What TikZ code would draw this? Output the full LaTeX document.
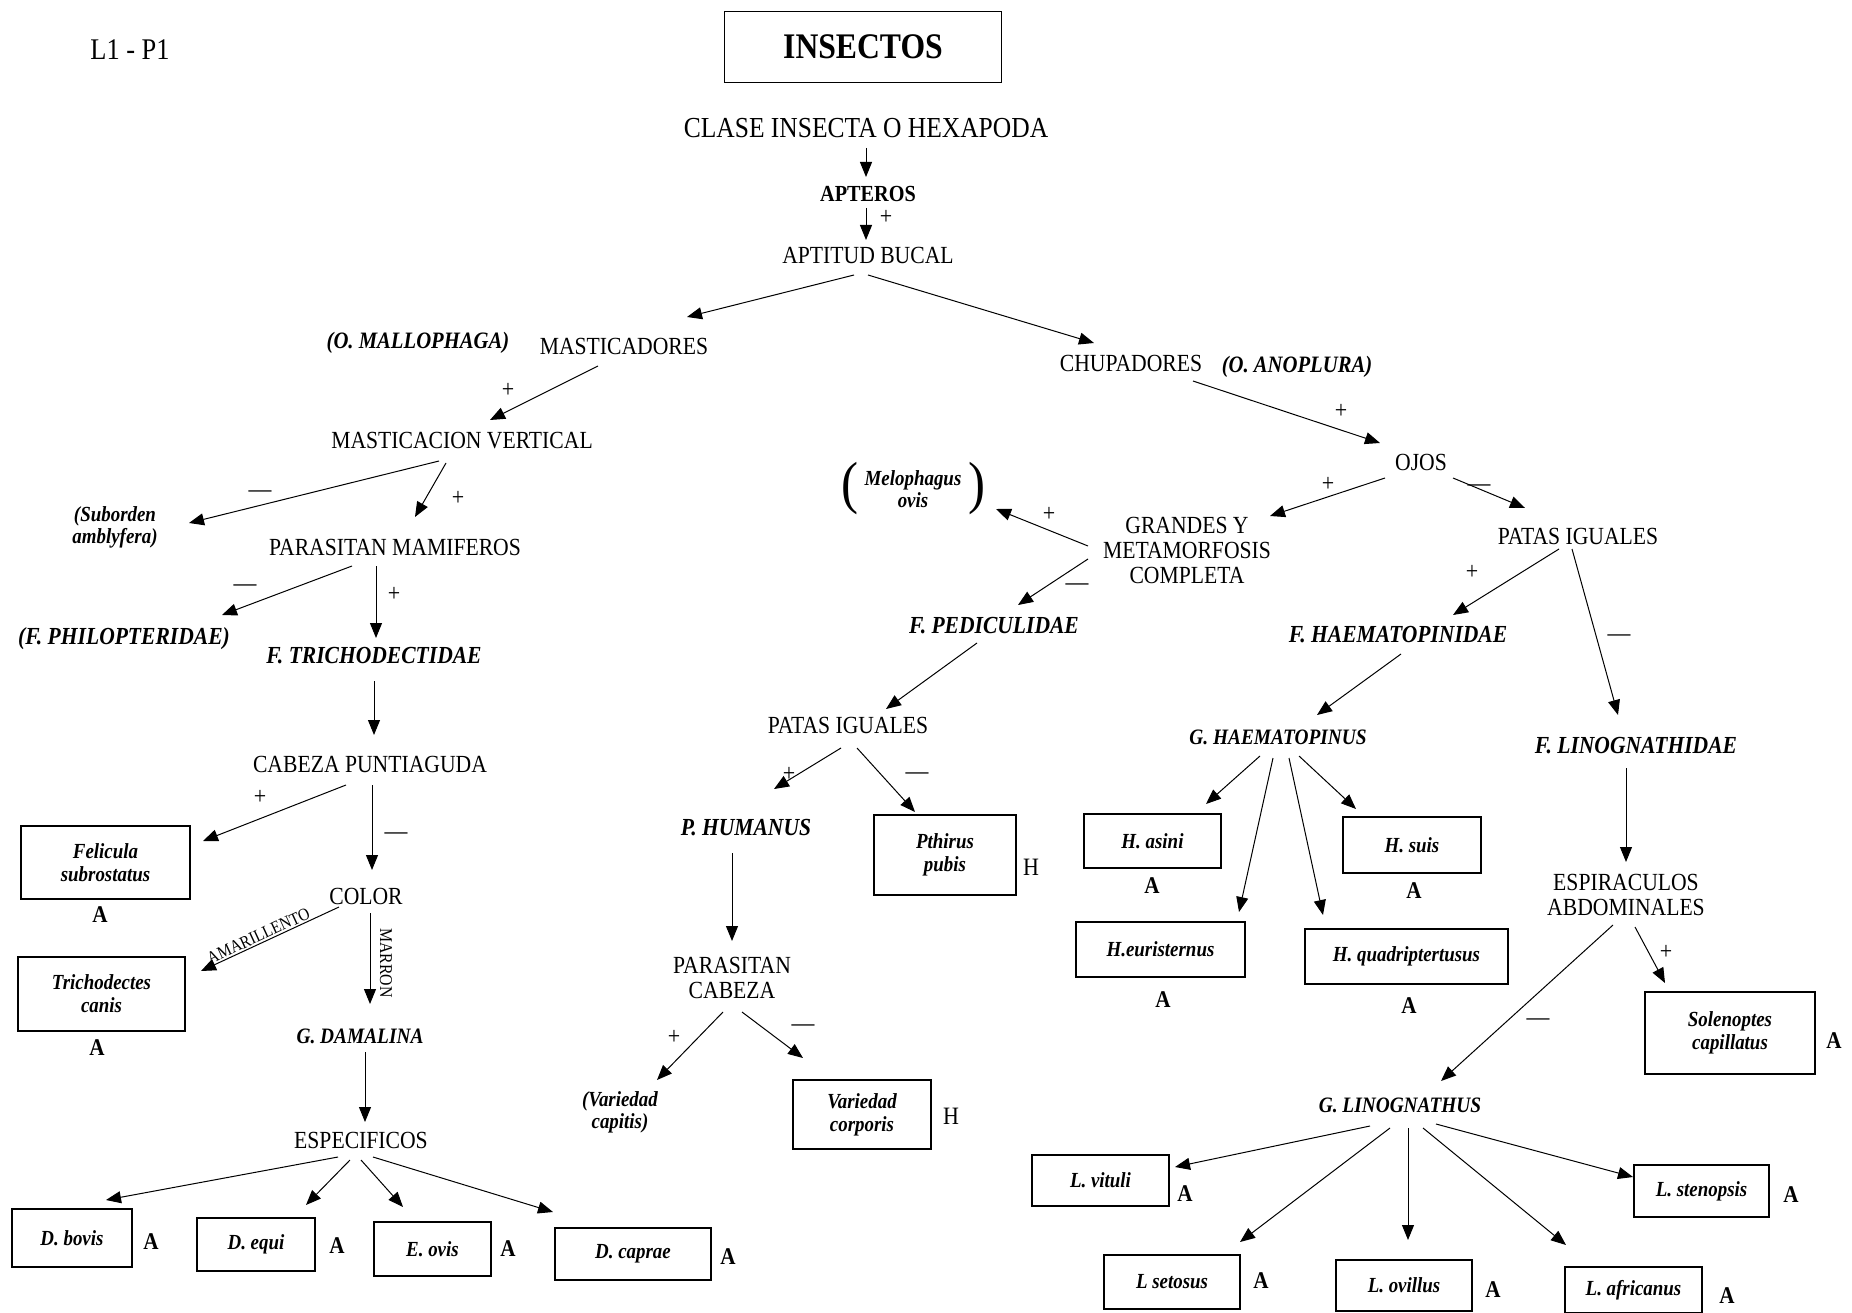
\documentclass[tikz,border=0pt]{standalone}
\usepackage{fontspec}
\setmainfont{Liberation Serif}[FakeStretch=0.88]
\usetikzlibrary{arrows.meta,calc}
\begin{document}
\begin{tikzpicture}[x=1pt,y=-1pt,
 lbl/.style={inner sep=1pt, font=\fontsize{24.6}{25}\selectfont, align=center},
 bi/.style={inner sep=1pt, font=\fontsize{24.5}{25}\selectfont\bfseries\itshape, align=center},
 gbi/.style={inner sep=1pt, font=\fontsize{22}{24}\selectfont\bfseries\itshape, align=center},
 sbi/.style={inner sep=1pt, font=\fontsize{21.5}{22}\selectfont\bfseries\itshape, align=center},
 bx/.style={draw, line width=1.1pt, inner sep=0pt, font=\fontsize{21.5}{23}\selectfont\bfseries\itshape, align=center},
 sgn/.style={inner sep=0pt, font=\fontsize{25}{25}\selectfont},
 dsh/.style={inner sep=0pt, font=\fontsize{26}{26}\selectfont},
 tag/.style={inner sep=0pt, font=\fontsize{24}{24}\selectfont\bfseries},
 htag/.style={inner sep=0pt, font=\fontsize{25}{25}\selectfont},
 arr/.style={line width=1pt, -{Triangle[length=15pt,width=12pt]}},
 par/.style={inner sep=0pt, font=\fontsize{58}{58}\selectfont},
]
\useasboundingbox[fill=white] (0,0) rectangle (1852,1313);

% ---- nodes ----
\node[lbl, font=\fontsize{30}{30}\selectfont] (lp) at (130,50) {L1 - P1};
\node[draw, line width=1.3pt, minimum width=277pt, minimum height=71pt, font=\fontsize{36}{36}\selectfont\bfseries] (ins) at (863,47) {INSECTOS};
\node[lbl, font=\fontsize{29}{29}\selectfont] (clase) at (866,128) {CLASE INSECTA O HEXAPODA};
\node[lbl, font=\fontsize{23}{23}\selectfont\bfseries] (apt) at (868,194) {APTEROS};
\node[lbl] (apb) at (868,255) {APTITUD BUCAL};
\node[bi, font=\fontsize{23.5}{25}\selectfont\bfseries\itshape] (mall) at (418,343) {(O. MALLOPHAGA)};
\node[lbl] (mast) at (624,346) {MASTICADORES};
\node[lbl] (chup) at (1131,363) {CHUPADORES};
\node[bi, font=\fontsize{23.5}{25}\selectfont\bfseries\itshape] (anop) at (1297,367) {(O. ANOPLURA)};
\node[lbl] (mv) at (462,441) {MASTICACION VERTICAL};
\node[lbl] (ojos) at (1421,462) {OJOS};
\node[sbi] (sub) at (115,527) {(Suborden\\amblyfera)};
\node[lbl] (pm) at (395,547) {PARASITAN MAMIFEROS};
\node[sbi] (melo) at (913,489) {Melophagus\\ovis};
\node[par] (melol) at (850,489) {(};
\node[par] (melor) at (977,489) {)};
\node[lbl] (gr) at (1187,550) {GRANDES Y\\METAMORFOSIS\\COMPLETA};
\node[lbl] (pir) at (1578,536) {PATAS IGUALES};
\node[bi] (phil) at (124,639) {(F. PHILOPTERIDAE)};
\node[bi] (tri) at (374,656) {F. TRICHODECTIDAE};
\node[bi] (ped) at (994,626) {F. PEDICULIDAE};
\node[bi] (hae) at (1398,635) {F. HAEMATOPINIDAE};
\node[lbl] (cab) at (370,764) {CABEZA PUNTIAGUDA};
\node[lbl] (pim) at (848,725) {PATAS IGUALES};
\node[gbi] (ghae) at (1278,737) {G. HAEMATOPINUS};
\node[bi] (lin) at (1636,746) {F. LINOGNATHIDAE};
\node[lbl] (esp) at (1626,895) {ESPIRACULOS\\ABDOMINALES};
\node[bx, minimum width=169pt, minimum height=73pt] (fel) at (105.5,862.5) {Felicula\\subrostatus};
\node[lbl] (col) at (366,896) {COLOR};
\node[bx, minimum width=167pt, minimum height=74pt] (trc) at (101.5,994) {Trichodectes\\canis};
\node[gbi] (dam) at (360,1036) {G. DAMALINA};
\node[lbl] (espf) at (361,1140) {ESPECIFICOS};
\node[bx, minimum width=120pt, minimum height=58pt] (dbov) at (72,1238) {D. bovis};
\node[bx, minimum width=118pt, minimum height=53pt] (dequ) at (256,1244.5) {D. equi};
\node[bx, minimum width=117pt, minimum height=54pt] (eovi) at (432.5,1249) {E. ovis};
\node[bx, minimum width=156pt, minimum height=52pt] (dcap) at (633,1254) {D. caprae};
\node[bi] (phu) at (746,828) {P. HUMANUS};
\node[bx, minimum width=142pt, minimum height=80pt] (pth) at (945,855) {Pthirus\\pubis};
\node[lbl] (pc) at (732,978) {PARASITAN\\CABEZA};
\node[sbi] (vcap) at (620,1112) {(Variedad\\capitis)};
\node[bx, minimum width=138pt, minimum height=69pt] (vcor) at (862,1114.5) {Variedad\\corporis};
\node[bx, minimum width=137pt, minimum height=54pt] (has) at (1152.5,841) {H. asini};
\node[bx, minimum width=138pt, minimum height=56pt] (hsu) at (1412,845) {H. suis};
\node[bx, minimum width=169pt, minimum height=55pt] (heu) at (1160.5,949.5) {H.euristernus};
\node[bx, minimum width=203pt, minimum height=55pt] (hqu) at (1406.5,956.5) {H. quadriptertusus};
\node[bx, minimum width=170pt, minimum height=82pt] (sol) at (1730,1033) {Solenoptes\\capillatus};
\node[gbi] (glin) at (1400,1105) {G. LINOGNATHUS};
\node[bx, minimum width=137pt, minimum height=51pt] (lvi) at (1100.5,1180.5) {L. vituli};
\node[bx, minimum width=135pt, minimum height=52pt] (lst) at (1701.5,1191) {L. stenopsis};
\node[bx, minimum width=136pt, minimum height=54pt] (lse) at (1172,1282) {L setosus};
\node[bx, minimum width=136pt, minimum height=51pt] (lov) at (1404,1285.5) {L. ovillus};
\node[bx, minimum width=137pt, minimum height=46pt] (laf) at (1633.5,1290) {L. africanus};

% ---- tags ----
\node[tag] (tfel) at (100,915) {A};
\node[tag] (ttrc) at (97,1048) {A};
\node[tag] (tdbov) at (151,1242) {A};
\node[tag] (tdequ) at (337,1246) {A};
\node[tag] (teovi) at (508,1249) {A};
\node[tag] (tdcap) at (728,1257) {A};
\node[htag] (tpth) at (1031,867) {H};
\node[htag] (tvcor) at (951,1116) {H};
\node[tag] (thas) at (1152,886) {A};
\node[tag] (thsu) at (1414,891) {A};
\node[tag] (theu) at (1163,1000) {A};
\node[tag] (thqu) at (1409,1006) {A};
\node[tag] (tsol) at (1834,1041) {A};
\node[tag] (tlvi) at (1185,1194) {A};
\node[tag] (tlst) at (1791,1195) {A};
\node[tag] (tlse) at (1261,1281) {A};
\node[tag] (tlov) at (1493,1290) {A};
\node[tag] (tlaf) at (1727,1296) {A};

% ---- signs ----
\node[sgn] (s1) at (886,217) {+};
\node[sgn] (s2) at (508,390) {+};
\node[sgn] (s3) at (1341,411) {+};
\node[dsh] (s4) at (260,494) {—};
\node[sgn] (s5) at (458,498) {+};
\node[sgn] (s6) at (1328,484) {+};
\node[dsh] (s7) at (1479,488) {—};
\node[sgn] (s8) at (1049,514) {+};
\node[dsh] (s9) at (1077,587) {—};
\node[sgn] (s10) at (1472,572) {+};
\node[dsh] (s11) at (1619,638) {—};
\node[dsh] (s12) at (245,588) {—};
\node[sgn] (s13) at (394,594) {+};
\node[sgn] (s14) at (260,797) {+};
\node[dsh] (s15) at (396,836) {—};
\node[sgn] (s16) at (789,774) {+};
\node[dsh] (s17) at (917,776) {—};
\node[sgn] (s18) at (674,1037) {+};
\node[dsh] (s19) at (803,1028) {—};
\node[dsh] (s20) at (1538,1022) {—};
\node[sgn] (s21) at (1666,952) {+};

% ---- arrows ----
\draw[arr] ($(clase)+(0,20)$) -- ($(apt)+(-2,-17)$);
\draw[arr] ($(apt)+(-2,14)$) -- ($(apb)+(-2,-15)$);
\draw[arr] ($(apb)+(-14,20)$) -- ($(mast)+(63,-29)$);
\draw[arr] ($(apb)+(0,20)$) -- ($(chup)+(-37,-20)$);
\draw[arr] ($(mast)+(-26,20)$) -- ($(mv)+(28,-21)$);
\draw[arr] ($(chup)+(62,18)$) -- ($(ojos)+(-41,-19)$);
\draw[arr] ($(mv)+(-23,20)$) -- ($(sub)+(74,-4)$);
\draw[arr] ($(mv)+(-16,22)$) -- ($(pm)+(20,-30)$);
\draw[arr] ($(ojos)+(-36,16)$) -- ($(gr)+(83,-34)$);
\draw[arr] ($(ojos)+(32,16)$) -- ($(pir)+(-53,-28)$);
\draw[arr] ($(gr)+(-99,-4)$) -- ($(melo)+(83,20)$);
\draw[arr] ($(gr)+(-99,9)$) -- ($(ped)+(24,-21)$);
\draw[arr] ($(pir)+(-19,13)$) -- ($(hae)+(55,-20)$);
\draw[arr] ($(pir)+(-6,13)$) -- ($(lin)+(-18,-31)$);
\draw[arr] ($(pm)+(-43,19)$) -- ($(phil)+(98,-24)$);
\draw[arr] ($(pm)+(-19,19)$) -- ($(tri)+(2,-18)$);
\draw[arr] ($(tri)+(0,25)$) -- ($(cab)+(4,-29)$);
\draw[arr] ($(ped)+(-17,17)$) -- ($(pim)+(38,-16)$);
\draw[arr] ($(hae)+(3,19)$) -- ($(ghae)+(39,-22)$);
\draw[arr] ($(lin)+(-10,22)$) -- ($(esp)+(0,-33)$);
\draw[arr] ($(cab)+(-24,21)$) -- ($(fel)+(97.5,-21.5)$);
\draw[arr] ($(cab)+(2,21)$) -- ($(col)+(6,-26)$);
\draw[arr] ($(col)+(-27,11)$) -- node[pos=0.56, above, sloped, inner sep=1.5pt, font=\fontsize{17.5}{17.5}\selectfont] (amar) {AMARILLENTO} ($(trc)+(99.5,-23)$);
\draw[arr] ($(col)+(4,17)$) -- ($(dam)+(10,-32)$);
\node[rotate=-90, inner sep=0pt, font=\fontsize{18}{18}\selectfont] (marron) at (386,963) {MARRON};
\draw[arr] ($(dam)+(5,16)$) -- ($(espf)+(4,-18)$);
\draw[arr] ($(espf)+(-23,17)$) -- ($(dbov)+(34,-38)$);
\draw[arr] ($(espf)+(-11,20)$) -- ($(dequ)+(50,-39.5)$);
\draw[arr] ($(espf)+(0,20)$) -- ($(eovi)+(-29.5,-42)$);
\draw[arr] ($(espf)+(12,17)$) -- ($(dcap)+(-80,-42)$);
\draw[arr] ($(pim)+(-7,23)$) -- ($(phu)+(28,-39)$);
\draw[arr] ($(pim)+(9,23)$) -- ($(pth)+(-30,-43)$);
\draw[arr] ($(phu)+(-14,25)$) -- ($(pc)+(0,-37)$);
\draw[arr] ($(pc)+(-9,34)$) -- ($(vcap)+(37,-32)$);
\draw[arr] ($(pc)+(10,34)$) -- ($(vcor)+(-59,-56.5)$);
\draw[arr] ($(ghae)+(-18,19)$) -- ($(has)+(53.5,-37)$);
\draw[arr] ($(ghae)+(-5,21)$) -- ($(heu)+(78.5,-37.5)$);
\draw[arr] ($(ghae)+(11,21)$) -- ($(hqu)+(-83.5,-41.5)$);
\draw[arr] ($(ghae)+(21,19)$) -- ($(hsu)+(-56,-36)$);
\draw[arr] ($(esp)+(-13,30)$) -- ($(glin)+(41,-24)$);
\draw[arr] ($(esp)+(9,32)$) -- ($(sol)+(-65,-50)$);
\draw[arr] ($(glin)+(-30,21)$) -- ($(lvi)+(74.5,-13.5)$);
\draw[arr] ($(glin)+(-10,23)$) -- ($(lse)+(68,-40)$);
\draw[arr] ($(glin)+(8,23)$) -- ($(lov)+(4,-45.5)$);
\draw[arr] ($(glin)+(23,23)$) -- ($(laf)+(-67.5,-45)$);
\draw[arr] ($(glin)+(36,19)$) -- ($(lst)+(-68.5,-14)$);
\end{tikzpicture}
\end{document}
